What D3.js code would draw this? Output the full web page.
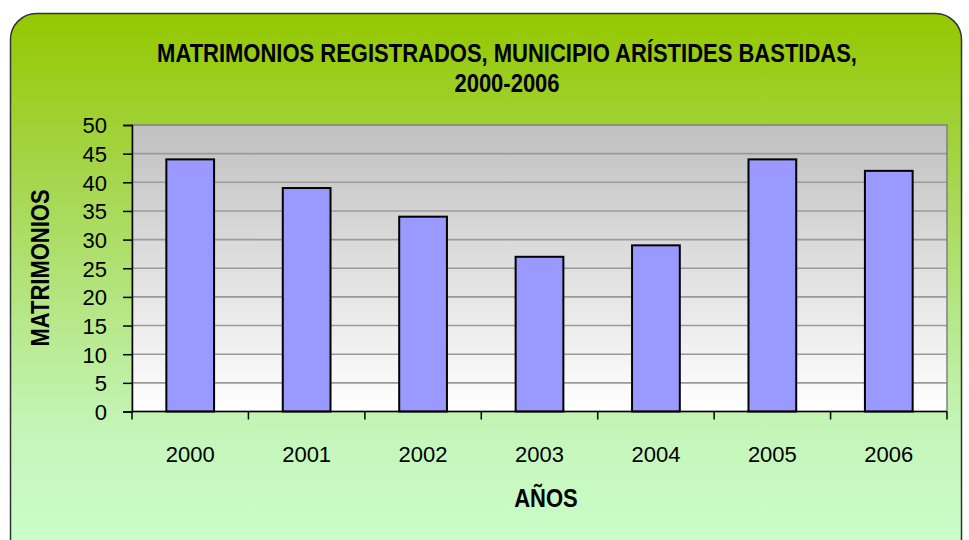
<!DOCTYPE html>
<html>
<head>
<meta charset="utf-8">
<script src="https://cdn.jsdelivr.net/npm/d3@7"></script>
<style>
  body { margin: 0; background: #fff; }
  svg { display: block; }
</style>
</head>
<body>
<div id="chart"></div>
<script>
const years = ["2000", "2001", "2002", "2003", "2004", "2005", "2006"];
const matrimonios = [44, 39, 34, 27, 29, 44, 42];
const yTicks = [0, 5, 10, 15, 20, 25, 30, 35, 40, 45, 50];
const titleLines = ["MATRIMONIOS REGISTRADOS, MUNICIPIO ARÍSTIDES BASTIDAS,", "2000-2006"];

const width = 969, height = 540;
const plot = { left: 132, top: 125, right: 947, bottom: 411.5 };
const regular = "'Liberation Sans', Arial, sans-serif";

const svg = d3.select("#chart").append("svg")
  .attr("width", width)
  .attr("height", height);

const defs = svg.append("defs");

// green background gradient
const bg = defs.append("linearGradient")
  .attr("id", "bgGrad")
  .attr("x1", 0).attr("y1", 0).attr("x2", 0).attr("y2", 1);
bg.append("stop").attr("offset", "0%").attr("stop-color", "#94c800");
bg.append("stop").attr("offset", "30%").attr("stop-color", "#a6d64e");
bg.append("stop").attr("offset", "75%").attr("stop-color", "#c4f6ba");
bg.append("stop").attr("offset", "100%").attr("stop-color", "#ccffcc");

// gray plot area gradient
const pg = defs.append("linearGradient")
  .attr("id", "plotGrad")
  .attr("x1", 0).attr("y1", 0).attr("x2", 0).attr("y2", 1);
pg.append("stop").attr("offset", "0%").attr("stop-color", "#c0c0c0");
pg.append("stop").attr("offset", "100%").attr("stop-color", "#ffffff");

svg.append("rect")
  .attr("x", 10.5).attr("y", 13.5)
  .attr("width", 951).attr("height", 560)
  .attr("rx", 26).attr("ry", 26)
  .attr("fill", "url(#bgGrad)")
  .attr("stroke", "#333")
  .attr("stroke-width", 1.5);

const x = d3.scaleBand()
  .domain(years)
  .range([plot.left, plot.right])
  .padding(0);

const y = d3.scaleLinear()
  .domain([0, 50])
  .range([plot.bottom, plot.top]);

svg.append("rect")
  .attr("x", plot.left).attr("y", plot.top)
  .attr("width", plot.right - plot.left)
  .attr("height", plot.bottom - plot.top)
  .attr("fill", "url(#plotGrad)");

// gridlines
svg.append("g")
  .selectAll("line")
  .data(yTicks.filter(d => d > 0 && d < 50))
  .join("line")
  .attr("x1", plot.left).attr("x2", plot.right)
  .attr("y1", d => y(d)).attr("y2", d => y(d))
  .attr("stroke", "#9a9a9a")
  .attr("stroke-width", 1.6);

svg.append("rect")
  .attr("x", plot.left).attr("y", plot.top)
  .attr("width", plot.right - plot.left)
  .attr("height", plot.bottom - plot.top)
  .attr("fill", "none")
  .attr("stroke", "#808080")
  .attr("stroke-width", 1.5);

// bars
const barW = x.bandwidth() * 0.41;
svg.append("g")
  .selectAll("rect")
  .data(years.map((yr, i) => ({ yr, v: matrimonios[i] })))
  .join("rect")
  .attr("x", d => x(d.yr) + (x.bandwidth() - barW) / 2)
  .attr("y", d => y(d.v))
  .attr("width", barW)
  .attr("height", d => y(0) - y(d.v))
  .attr("fill", "#9999ff")
  .attr("stroke", "#000")
  .attr("stroke-width", 2);

// y axis
const yAxis = svg.append("g")
  .attr("transform", `translate(${plot.left},0)`)
  .call(d3.axisLeft(y).tickValues(yTicks).tickSize(9).tickPadding(16));
yAxis.select(".domain").attr("stroke", "#000").attr("stroke-width", 1.5);
yAxis.selectAll(".tick line").attr("stroke", "#000").attr("stroke-width", 1.5);
yAxis.selectAll("text")
  .attr("font-family", regular)
  .attr("font-size", 22)
  .attr("fill", "#000")
  .attr("dy", "0.36em");

// x axis: ticks at category boundaries
const xAxis = svg.append("g")
  .attr("transform", `translate(0,${plot.bottom})`);
xAxis.append("line")
  .attr("x1", plot.left).attr("x2", plot.right)
  .attr("stroke", "#000").attr("stroke-width", 1.5);
xAxis.selectAll(".xtick")
  .data(years.concat(["end"]))
  .join("line")
  .attr("class", "xtick")
  .attr("x1", d => d === "end" ? plot.right : x(d))
  .attr("x2", d => d === "end" ? plot.right : x(d))
  .attr("y1", 0).attr("y2", 8)
  .attr("stroke", "#000").attr("stroke-width", 1.5);
xAxis.selectAll(".xlabel")
  .data(years)
  .join("text")
  .attr("class", "xlabel")
  .attr("x", d => x(d) + x.bandwidth() / 2)
  .attr("y", 50)
  .attr("text-anchor", "middle")
  .attr("font-family", regular)
  .attr("font-size", 22)
  .attr("fill", "#000")
  .text(d => d);

// condensed bold text (no narrow font installed, so squeeze horizontally)
function boldLabel(tx, ty, rot, str) {
  svg.append("g")
    .attr("transform", `translate(${tx},${ty}) rotate(${rot}) scale(0.88,1)`)
    .append("text")
    .attr("text-anchor", "middle")
    .attr("font-family", regular)
    .attr("font-weight", "bold")
    .attr("font-size", 25)
    .attr("fill", "#000")
    .text(str);
}

titleLines.forEach((t, i) => boldLabel(507, 62 + i * 30, 0, t));
boldLabel(49, 268, -90, "MATRIMONIOS");
boldLabel(546, 507, 0, "AÑOS");
</script>
</body>
</html>
